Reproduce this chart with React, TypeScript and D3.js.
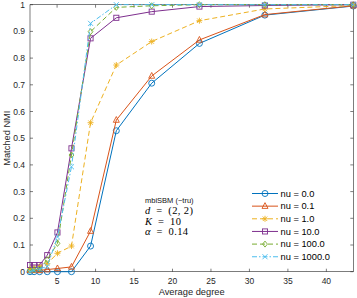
import { useEffect, useRef } from "react";
import * as d3 from "d3";

const DEGREES = [1.48, 2.01, 2.73, 3.72, 5.05, 6.87, 9.35, 12.7, 17.3, 23.5, 32, 43.5];

const NU_0 = [0.0, 0.0, 0.0, 0.0, 0.0, 0.0, 0.096, 0.528, 0.706, 0.855, 0.961, 0.995];
const NU_01 = [0.005, 0.005, 0.005, 0.008, 0.012, 0.018, 0.152, 0.568, 0.733, 0.868, 0.963, 0.996];
const NU_1 = [0.01, 0.015, 0.02, 0.03, 0.069, 0.096, 0.558, 0.774, 0.862, 0.94, 0.984, 0.997];
const NU_10 = [0.025, 0.025, 0.025, 0.062, 0.147, 0.462, 0.874, 0.951, 0.974, 0.993, 0.997, 1.0];
const NU_100 = [0.005, 0.008, 0.01, 0.045, 0.106, 0.437, 0.899, 0.99, 0.996, 1.0, 1.0, 1.0];
const NU_1000 = [0.0, 0.005, 0.01, 0.02, 0.13, 0.393, 0.93, 1.0, 1.0, 1.0, 1.0, 1.0];

const Y_TICKS = [0, 0.1, 0.2, 0.3, 0.4, 0.5, 0.6, 0.7, 0.8, 0.9, 1];
const X_TICKS = [5, 10, 15, 20, 25, 30, 35, 40];

const SERIES = [
    { label: "nu = 0.0", values: NU_0, color: "#0072BD", dash: null, marker: "circle" },
    { label: "nu = 0.1", values: NU_01, color: "#D95319", dash: null, marker: "triangle" },
    { label: "nu = 1.0", values: NU_1, color: "#EDB120", dash: "5,3", marker: "star" },
    { label: "nu = 10.0", values: NU_10, color: "#7E2F8E", dash: null, marker: "square" },
    { label: "nu = 100.0", values: NU_100, color: "#77AC30", dash: "5,3", marker: "diamond" },
    { label: "nu = 1000.0", values: NU_1000, color: "#4DBEEE", dash: "5,2,1.5,2", marker: "cross" },
];

const FONT = "Helvetica, Arial, 'Liberation Sans', sans-serif";
const AXIS_COLOR = "#262626";

function drawMarker(g, kind, cx, cy, color) {
    const s = 3;
    const common = (sel) => sel.attr("fill", "none").attr("stroke", color).attr("stroke-width", 0.9);
    if (kind === "circle") {
        common(g.append("circle").attr("cx", cx).attr("cy", cy).attr("r", s));
    } else if (kind === "triangle") {
        common(g.append("path").attr("d", `M${cx},${cy - s - 0.5}L${cx + s},${cy + s * 0.75}L${cx - s},${cy + s * 0.75}Z`));
    } else if (kind === "square") {
        common(g.append("rect").attr("x", cx - s * 0.85).attr("y", cy - s * 0.85).attr("width", s * 1.7).attr("height", s * 1.7));
    } else if (kind === "diamond") {
        common(g.append("path").attr("d", `M${cx},${cy - s}L${cx + s * 0.8},${cy}L${cx},${cy + s}L${cx - s * 0.8},${cy}Z`));
    } else if (kind === "cross") {
        const k = s * 0.85;
        common(g.append("path").attr("d", `M${cx - k},${cy - k}L${cx + k},${cy + k}M${cx - k},${cy + k}L${cx + k},${cy - k}`));
    } else if (kind === "star") {
        const k = s * 0.75;
        common(
            g.append("path").attr(
                "d",
                `M${cx - s},${cy}L${cx + s},${cy}M${cx},${cy - s}L${cx},${cy + s}M${cx - k},${cy - k}L${cx + k},${cy + k}M${cx - k},${cy + k}L${cx + k},${cy - k}`
            )
        );
    }
}

export default function App() {
    const svgRef = useRef(null);

    useEffect(() => {
        const svg = d3.select(svgRef.current);
        svg.selectAll("*").remove();

        const left = 30, right = 353.3, top = 4.7, bottom = 271.7;
        const x = d3.scaleLinear().domain([DEGREES[0], DEGREES[DEGREES.length - 1]]).range([left, right]);
        const y = d3.scaleLinear().domain([0, 1]).range([bottom, top]);

        const axes = svg.append("g");
        axes.append("rect")
            .attr("x", left).attr("y", top)
            .attr("width", right - left).attr("height", bottom - top)
            .attr("fill", "#fff").attr("stroke", AXIS_COLOR).attr("stroke-width", 0.6);

        const tl = 3;
        X_TICKS.forEach((t) => {
            const px = x(t);
            axes.append("line").attr("x1", px).attr("x2", px).attr("y1", bottom).attr("y2", bottom - tl)
                .attr("stroke", AXIS_COLOR).attr("stroke-width", 0.6);
            axes.append("line").attr("x1", px).attr("x2", px).attr("y1", top).attr("y2", top + tl)
                .attr("stroke", AXIS_COLOR).attr("stroke-width", 0.6);
            axes.append("text").attr("x", px).attr("y", 283.5).attr("text-anchor", "middle")
                .attr("font-family", FONT).attr("font-size", 8.5).attr("fill", AXIS_COLOR).text(String(t));
        });
        Y_TICKS.forEach((t) => {
            const py = y(t);
            axes.append("line").attr("x1", left).attr("x2", left + tl).attr("y1", py).attr("y2", py)
                .attr("stroke", AXIS_COLOR).attr("stroke-width", 0.6);
            axes.append("line").attr("x1", right).attr("x2", right - tl).attr("y1", py).attr("y2", py)
                .attr("stroke", AXIS_COLOR).attr("stroke-width", 0.6);
            axes.append("text").attr("x", 25).attr("y", py + 3).attr("text-anchor", "end")
                .attr("font-family", FONT).attr("font-size", 8.5).attr("fill", AXIS_COLOR).text(String(t));
        });

        svg.append("text").attr("x", (left + right) / 2).attr("y", 295).attr("text-anchor", "middle")
            .attr("font-family", FONT).attr("font-size", 9.3).attr("fill", AXIS_COLOR).text("Average degree");
        svg.append("text").attr("transform", `translate(9.5,${(top + bottom) / 2}) rotate(-90)`)
            .attr("text-anchor", "middle")
            .attr("font-family", FONT).attr("font-size", 9.3).attr("fill", AXIS_COLOR).text("Matched NMI");

        const plot = svg.append("g");
        const line = d3.line().x((d) => x(d[0])).y((d) => y(d[1]));
        SERIES.forEach((s) => {
            const pts = DEGREES.map((d, i) => [d, s.values[i]]);
            plot.append("path").datum(pts).attr("d", line)
                .attr("fill", "none").attr("stroke", s.color).attr("stroke-width", 1)
                .attr("stroke-dasharray", s.dash);
            pts.forEach((p) => drawMarker(plot, s.marker, x(p[0]), y(p[1]), s.color));
        });

        // annotation
        const ann = svg.append("g");
        ann.append("text").attr("x", 145).attr("y", 203).attr("font-family", FONT).attr("font-size", 7.5)
            .attr("fill", "#111").text("mbiSBM (~tru)");
        const mathLines = [
            { v: "d", rest: "\u2002=\u2002(2, 2)", y: 214 },
            { v: "K", rest: "\u2002=\u200210", y: 224.5 },
            { v: "α", rest: "\u2002=\u20020.14", y: 235 },
        ];
        mathLines.forEach((m) => {
            const t = ann.append("text").attr("x", 145).attr("y", m.y).attr("font-family", "'Liberation Serif', serif")
                .attr("font-size", 10.5).attr("letter-spacing", 0.4).attr("fill", "#000");
            t.append("tspan").attr("font-style", "italic").text(m.v);
            t.append("tspan").text(m.rest);
        });

        // legend
        const lg = svg.append("g");
        SERIES.forEach((s, i) => {
            const ly = 193.5 + i * 12.65;
            lg.append("line").attr("x1", 252).attr("x2", 278).attr("y1", ly).attr("y2", ly)
                .attr("stroke", s.color).attr("stroke-width", 1).attr("stroke-dasharray", s.dash);
            drawMarker(lg, s.marker, 265, ly, s.color);
            lg.append("text").attr("x", 280.5).attr("y", ly + 3.3).attr("font-family", FONT).attr("font-size", 9.3)
                .attr("fill", "#000").text(s.label);
        });
    }, []);

    return (
        <div>
            <style>{"body{margin:0}"}</style>
            <svg ref={svgRef} width={357} height={298} style={{ display: "block", background: "#fff" }} />
        </div>
    );
}
